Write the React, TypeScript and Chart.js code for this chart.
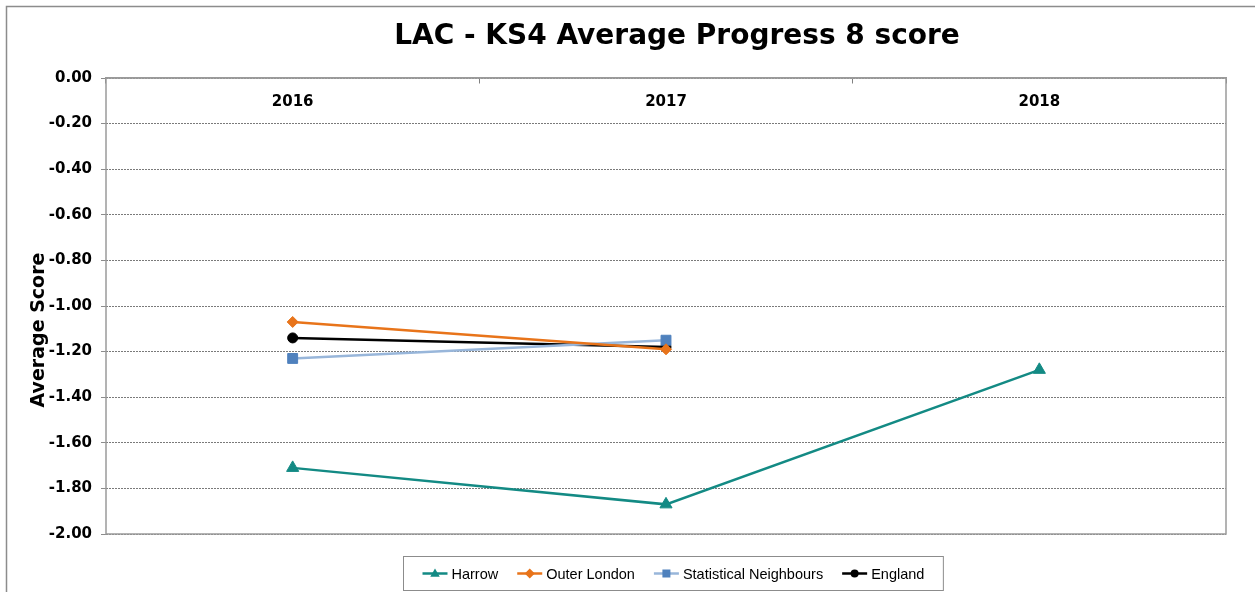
import React, { useEffect, useRef } from 'react';
import { Chart, registerables } from 'chart.js';

Chart.register(...registerables);

const years = ['2016', '2017', '2018'];
const harrow = [-1.71, -1.87, -1.28];
const outerLondon = [-1.07, -1.19, null];
const statNeighbours = [-1.23, -1.15, null];
const england = [-1.14, -1.18, null];
const seriesLabels = ['Harrow', 'Outer London', 'Statistical Neighbours', 'England'];
const yMin = -2;
const yMax = 0;
const yStep = 0.2;
const titleText = 'LAC - KS4 Average Progress 8 score';
const yTitleText = 'Average Score';

const FONT = '"DejaVu Sans", Verdana, sans-serif';
const LEGEND_FONT = '"Liberation Sans", Arial, sans-serif';

function drawMarker(ctx: CanvasRenderingContext2D, style: string, x: number, y: number, r: number) {
  ctx.beginPath();
  if (style === 'triangle') {
    ctx.moveTo(x, y - r);
    ctx.lineTo(x + r * 0.95, y + r * 0.65);
    ctx.lineTo(x - r * 0.95, y + r * 0.65);
    ctx.closePath();
  } else if (style === 'rectRot') {
    ctx.moveTo(x, y - r);
    ctx.lineTo(x + r, y);
    ctx.lineTo(x, y + r);
    ctx.lineTo(x - r, y);
    ctx.closePath();
  } else if (style === 'rect') {
    ctx.rect(x - r * 0.8, y - r * 0.8, r * 1.6, r * 1.6);
  } else {
    ctx.arc(x, y, r * 0.8, 0, Math.PI * 2);
  }
  ctx.fill();
}

const decorPlugin = {
  id: 'decor',
  beforeDraw(chart: any) {
    const ctx = chart.ctx as CanvasRenderingContext2D;
    ctx.save();
    ctx.strokeStyle = '#8c8c8c';
    ctx.lineWidth = 1.5;
    ctx.beginPath();
    ctx.moveTo(6.5, chart.height + 5);
    ctx.lineTo(6.5, 6.5);
    ctx.lineTo(chart.width + 5, 6.5);
    ctx.stroke();
    ctx.restore();
  },
  beforeDatasetsDraw(chart: any) {
    const ctx = chart.ctx as CanvasRenderingContext2D;
    const a = chart.chartArea;
    ctx.save();
    ctx.strokeStyle = '#9a9a9a';
    ctx.lineWidth = 1.5;
    ctx.strokeRect(a.left, a.top, a.right - a.left, a.bottom - a.top);
    ctx.restore();
  },
  afterDraw(chart: any) {
    const ctx = chart.ctx as CanvasRenderingContext2D;
    const a = chart.chartArea;
    const midX = (a.left + a.right) / 2;
    ctx.save();
    // Title
    ctx.fillStyle = '#000';
    ctx.font = `bold 28px ${FONT}`;
    ctx.textAlign = 'center';
    ctx.textBaseline = 'middle';
    ctx.fillText(titleText, midX + 11, 37);
    // Y title
    ctx.save();
    ctx.translate(39, (a.top + a.bottom) / 2 + 24);
    ctx.rotate(-Math.PI / 2);
    ctx.font = `bold 19px ${FONT}`;
    ctx.fillText(yTitleText, 0, 0);
    ctx.restore();
    // Legend
    ctx.font = `14.5px ${LEGEND_FONT}`;
    const datasets = chart.data.datasets;
    const lineLen = 25, gapText = 4, gapItem = 19, pad = 19, boxH = 34;
    const widths = datasets.map((ds: any) => ctx.measureText(ds.label).width);
    let content = 0;
    widths.forEach((w: number) => { content += lineLen + gapText + w; });
    content += gapItem * (datasets.length - 1);
    const boxW = content + pad * 2;
    const cx = midX + 7;
    const bx = Math.round(cx - boxW / 2) + 0.5;
    const by = Math.round(a.bottom + 22) + 0.5;
    ctx.strokeStyle = '#8c8c8c';
    ctx.lineWidth = 1;
    ctx.strokeRect(bx, by, boxW, boxH);
    let x = bx + pad;
    const y = by + boxH / 2;
    ctx.textAlign = 'left';
    ctx.textBaseline = 'middle';
    datasets.forEach((ds: any, i: number) => {
      ctx.strokeStyle = ds.borderColor;
      ctx.lineWidth = 2.5;
      ctx.beginPath();
      ctx.moveTo(x, y);
      ctx.lineTo(x + lineLen, y);
      ctx.stroke();
      ctx.fillStyle = ds.pointBackgroundColor;
      drawMarker(ctx, ds.pointStyle, x + lineLen / 2, y, 5);
      ctx.fillStyle = '#000';
      ctx.fillText(ds.label, x + lineLen + gapText, y + 1);
      x += lineLen + gapText + widths[i] + gapItem;
    });
    ctx.restore();
  },
};

export default function App() {
  const ref = useRef<HTMLCanvasElement | null>(null);
  useEffect(() => {
    if (!ref.current) return;
    const mk = (label: string, data: (number | null)[], line: string, fill: string, style: string, r: number) => ({
      label,
      data,
      borderColor: line,
      backgroundColor: line,
      pointBackgroundColor: fill,
      pointBorderColor: fill,
      pointStyle: style,
      pointRadius: r,
      pointBorderWidth: 1,
      borderWidth: 2.5,
      tension: 0,
      spanGaps: false,
    });
    const chart = new Chart(ref.current, {
      type: 'line',
      data: {
        labels: years,
        datasets: [
          mk(seriesLabels[0], harrow, '#138a84', '#138a84', 'triangle', 7),
          mk(seriesLabels[1], outerLondon, '#e8741a', '#e8741a', 'rectRot', 5.5),
          mk(seriesLabels[2], statNeighbours, '#98b6da', '#4f81bd', 'rect', 7),
          mk(seriesLabels[3], england, '#000000', '#000000', 'circle', 5),
        ] as any,
      },
      options: {
        animation: false,
        responsive: false,
        maintainAspectRatio: false,
        layout: { padding: { left: 0, top: 78, right: 29, bottom: 58 } },
        plugins: {
          legend: { display: false },
          title: { display: false },
          tooltip: { enabled: false },
        },
        scales: {
          x: {
            type: 'category',
            position: { y: 0 } as any,
            offset: true,
            grid: { drawOnChartArea: false, drawTicks: true, tickLength: 5, color: '#808080', offset: true },
            border: { display: true, color: '#9a9a9a', width: 1.5 },
            ticks: { font: { family: FONT, size: 15, weight: 'bold' }, color: '#000', padding: 10 },
          },
          y: {
            min: yMin,
            max: yMax,
            position: 'left',
            ticks: {
              stepSize: yStep,
              callback: (v: any) => Number(v).toFixed(2),
              font: { family: FONT, size: 15, weight: 'bold' },
              color: '#000',
              padding: 9,
            },
            grid: { color: '#7a7a7a', tickLength: 5, tickColor: '#8c8c8c', lineWidth: 1 },
            border: { display: false, dash: [2, 1] },
            afterFit: (s: any) => { s.width = 106; },
          },
        },
      } as any,
      plugins: [decorPlugin],
    });
    return () => chart.destroy();
  }, []);
  return (
    <div style={{ position: 'absolute', left: 0, top: 0, width: 1255, height: 592 }}>
      <canvas ref={ref} width={1255} height={592} style={{ display: 'block' }} />
    </div>
  );
}
